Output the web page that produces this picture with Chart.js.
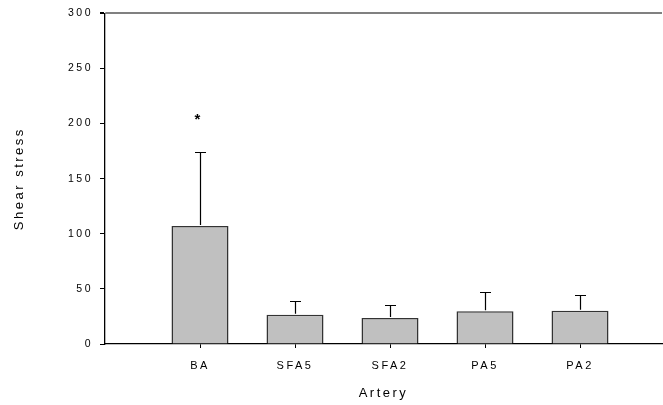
<!DOCTYPE html>
<html>
<head>
<meta charset="utf-8">
<script src="https://cdn.jsdelivr.net/npm/chart.js@4.4.1/dist/chart.umd.min.js"></script>
<style>
  html, body { margin: 0; padding: 0; background: #fff; }
  #wrap { width: 663px; height: 405px; }
</style>
</head>
<body>
<div id="wrap"><canvas id="chart" width="663" height="405"></canvas></div>
<script>
// data
const categories = ['BA', 'SFA5', 'SFA2', 'PA5', 'PA2'];
const meanShear = [107, 26.6, 23.6, 29.6, 30.2];
const errTop = [174.5, 38.7, 35.1, 46.9, 44.7];   // top of the error bar
const starValue = [207, null, null, null, null];   // significance mark
const yTicks = [0, 50, 100, 150, 200, 250, 300];

const fontFam = '"Liberation Sans", Arial, sans-serif';

const errorBars = {
    id: 'errorBars',
    afterDatasetsDraw(chart) {
        const ctx = chart.ctx;
        const xs = chart.scales.x, ys = chart.scales.y;
        ctx.save();
        ctx.strokeStyle = '#000';
        ctx.lineWidth = 1.2;
        meanShear.forEach((v, i) => {
            const px = Math.round(xs.getPixelForValue(i + 1)) + 0.5;
            const y0 = ys.getPixelForValue(v) - 1;
            const y1 = Math.round(ys.getPixelForValue(errTop[i])) + 0.5;
            ctx.beginPath();
            ctx.moveTo(px, y0);
            ctx.lineTo(px, y1);
            ctx.moveTo(px - 5.5, y1);
            ctx.lineTo(px + 5.5, y1);
            ctx.stroke();
            if (starValue[i] != null) {
                ctx.font = 'bold 15px ' + fontFam;
                ctx.fillStyle = '#000';
                ctx.textAlign = 'center';
                ctx.textBaseline = 'alphabetic';
                ctx.letterSpacing = '0px';
                ctx.fillText('*', px - 3, ys.getPixelForValue(starValue[i]) + 0.57 * 15);
            }
        });
        ctx.restore();
    }
};

const spacing = {
    id: 'spacing',
    beforeDraw(chart) {
        chart.ctx.letterSpacing = '2.5px';
    }
};

const ctx = document.getElementById('chart').getContext('2d');
const chart = new Chart(ctx, {
    type: 'bar',
    data: {
        datasets: [{
            label: 'Shear stress',
            data: meanShear.map((v, i) => ({ x: i + 1, y: v })),
            backgroundColor: '#c0c0c0',
            borderColor: '#333333',
            borderWidth: 1.5,
            categoryPercentage: 1,
            barPercentage: 0.6
        }]
    },
    options: {
        responsive: false,
        animation: false,
        layout: { padding: { top: 13, right: 1, bottom: 0, left: 0 } },
        plugins: {
            legend: { display: false },
            tooltip: { enabled: false }
        },
        scales: {
            x: {
                type: 'linear',
                min: 0,
                max: 5.863,
                offset: false,
                afterBuildTicks: s => { s.ticks = categories.map((c, i) => ({ value: i + 1 })); },
                afterFit: s => { s.height = 61; },
                ticks: {
                    stepSize: 1,
                    autoSkip: false,
                    maxRotation: 0,
                    padding: 11,
                    color: '#000',
                    font: { family: fontFam, size: 11 },
                    callback: v => categories[v - 1]
                },
                grid: { offset: false, drawOnChartArea: false, tickLength: 4, color: '#000' },
                border: { color: '#000', width: 1.3 },
                title: {
                    display: true,
                    text: 'Artery',
                    color: '#000',
                    font: { family: fontFam, size: 13 },
                    padding: { top: 0, bottom: 4 }
                }
            },
            y: {
                min: 0,
                max: 300,
                afterBuildTicks: s => { s.ticks = yTicks.map(v => ({ value: v })); },
                afterFit: s => { s.width = 105; },
                ticks: {
                    padding: 7,
                    color: '#000',
                    font: { family: fontFam, size: 10.5 }
                },
                grid: {
                    tickLength: 5,
                    tickColor: '#000',
                    color: c => (c.tick && c.tick.value === 300) ? '#808080' : 'rgba(0,0,0,0)',
                    lineWidth: c => (c.tick && c.tick.value === 300) ? 2 : 1
                },
                border: { color: '#000', width: 1.3 },
                title: {
                    display: true,
                    text: 'Shear stress',
                    color: '#000',
                    font: { family: fontFam, size: 13 },
                    padding: { top: 12, bottom: 0 }
                }
            }
        }
    },
    plugins: [spacing, errorBars]
});
</script>
</body>
</html>
